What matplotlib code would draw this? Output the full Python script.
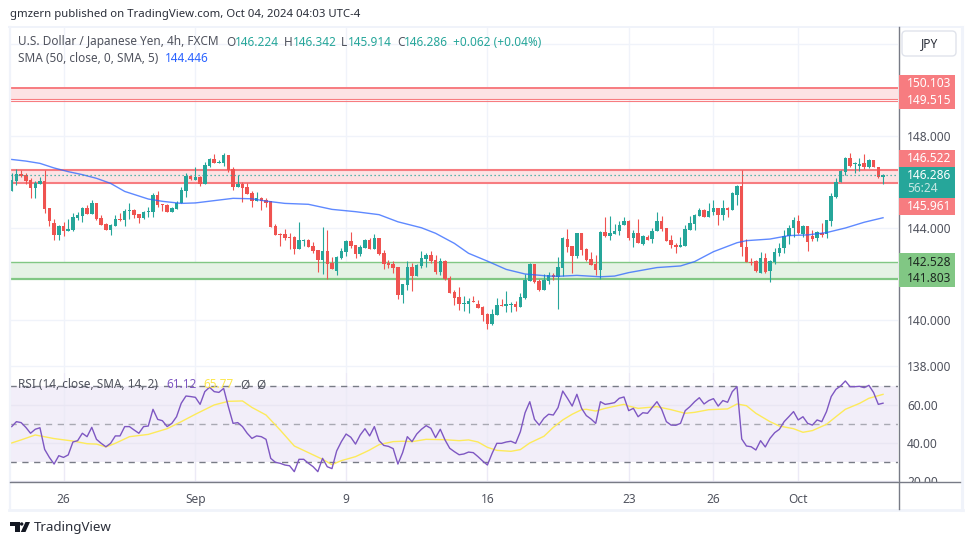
"""USD/JPY 4h TradingView snapshot with SMA, zones and an RSI pane."""
import matplotlib
matplotlib.use("Agg")
import numpy as np
import matplotlib.pyplot as plt
from matplotlib.patches import Rectangle, FancyBboxPatch, Polygon, Circle
from matplotlib.lines import Line2D
from matplotlib.transforms import Affine2D, Bbox

plt.rcParams["font.family"] = ["Noto Sans", "DejaVu Sans"]

opens = [
    145.62,146.06,146.35,146.30,146.09,145.74,145.91,146.03,144.87,144.22,
    143.70,144.09,143.87,143.91,144.43,144.52,144.87,144.61,145.09,144.43,
    144.17,143.91,144.09,144.39,144.35,144.74,144.78,144.61,144.43,144.70,
    144.70,145.43,145.04,145.00,144.70,144.83,145.09,145.61,146.25,146.09,
    146.22,145.91,146.69,147.00,146.83,146.83,147.17,146.56,145.78,145.91,
    145.78,145.52,145.17,145.30,145.22,145.16,144.09,143.74,143.74,143.61,
    143.61,143.09,143.43,143.48,143.22,143.04,142.61,143.00,142.48,142.13,
    142.70,142.96,143.43,143.26,142.87,143.13,143.48,143.09,143.57,142.91,
    142.48,142.43,142.30,141.09,141.52,142.30,141.91,142.35,142.65,142.83,
    142.61,142.09,142.57,141.83,141.22,141.00,140.70,140.70,140.83,140.70,
    140.57,140.26,139.83,140.22,140.65,140.61,140.65,140.70,140.57,140.96,
    141.70,142.43,141.70,141.30,141.70,141.96,141.87,142.26,143.52,143.22,
    142.78,143.78,143.09,142.65,142.43,142.17,143.83,143.65,143.74,143.87,
    144.13,144.30,143.57,143.78,143.32,143.59,143.51,143.87,144.29,143.99,
    143.48,143.26,143.19,143.22,143.91,144.17,144.52,144.78,144.48,144.70,
    144.87,144.57,144.87,144.78,145.43,145.83,143.16,142.52,142.57,142.04,
    142.70,142.13,142.52,142.91,143.12,143.64,143.99,144.30,143.72,144.09,
    143.64,143.55,143.78,143.72,144.30,145.35,146.01,146.45,147.03,146.78,
    146.71,146.83,146.67,146.96,146.67,146.224,
]
highs = [
    146.40,146.55,146.52,146.38,146.16,146.04,146.23,146.52,144.87,144.39,
    144.13,144.27,144.40,144.64,144.71,144.93,145.00,145.22,145.09,144.56,
    144.22,144.17,144.56,144.64,144.83,145.09,144.83,144.61,144.74,144.91,
    145.51,145.61,145.04,145.04,144.91,145.17,145.80,146.40,146.27,146.64,
    146.26,146.85,147.04,147.22,146.96,147.26,147.17,146.65,146.30,146.00,
    145.96,145.61,145.56,145.35,145.30,145.17,144.17,143.78,143.96,143.78,
    143.65,144.26,143.52,143.52,143.39,143.04,144.04,143.91,142.74,142.78,
    143.13,143.48,143.83,143.26,143.26,143.52,143.57,143.74,143.57,143.04,
    142.61,142.57,142.30,141.57,142.57,142.48,142.43,143.00,142.91,143.00,
    142.83,142.70,142.61,141.91,141.30,141.43,141.04,140.96,141.04,140.87,
    140.59,140.30,140.48,140.96,140.91,141.26,140.78,140.83,141.17,142.00,
    142.48,142.43,141.78,142.00,142.09,142.04,142.74,143.61,143.96,143.22,
    143.78,143.78,143.13,142.96,142.83,143.87,144.48,144.52,144.17,144.30,
    144.48,144.35,143.91,144.39,143.70,143.70,143.99,144.70,144.52,143.99,
    143.70,143.33,143.62,144.13,144.52,144.61,144.85,144.83,145.09,145.22,
    144.87,145.22,144.91,145.57,145.87,146.52,143.51,142.68,142.61,142.94,
    142.90,142.61,143.12,143.36,143.91,144.13,144.46,144.57,144.13,144.09,
    143.91,143.87,144.20,144.35,145.51,146.16,146.52,147.07,147.25,146.88,
    147.03,147.22,146.98,146.96,146.67,146.342,
]
lows = [
    145.62,145.87,146.23,145.91,145.29,145.29,145.91,144.67,144.09,143.48,
    143.48,143.65,143.87,143.87,144.35,144.26,144.61,144.61,144.35,144.13,
    143.91,143.70,144.09,144.30,144.09,144.39,144.43,144.22,144.40,144.49,
    144.46,144.91,144.74,144.70,144.70,144.83,145.09,145.35,146.09,146.09,
    145.83,145.91,146.65,146.83,146.83,146.69,146.43,145.65,145.78,145.13,
    145.48,144.91,145.17,144.78,144.91,144.04,143.70,143.22,143.48,143.09,
    142.87,143.09,143.22,143.17,142.91,142.09,142.00,141.78,142.22,141.96,
    142.65,142.78,143.13,142.70,142.78,143.13,143.09,143.09,142.83,142.22,
    142.26,142.04,140.91,140.74,141.30,141.26,141.91,142.26,142.30,142.48,
    142.00,141.96,141.74,141.17,140.65,140.43,140.39,140.30,140.78,140.52,
    139.96,139.61,139.78,140.22,140.61,140.35,140.35,140.39,140.57,140.91,
    141.70,141.61,141.26,141.30,141.57,141.74,140.48,141.91,142.96,142.04,
    142.70,142.83,142.57,142.39,141.96,141.78,143.61,143.48,143.74,143.70,
    144.13,143.48,143.17,143.35,143.26,143.48,143.36,143.87,143.87,143.45,
    143.12,142.91,143.16,143.22,143.91,143.91,144.52,144.48,144.48,144.57,
    144.13,144.35,144.49,144.78,145.00,142.78,142.52,142.39,142.09,142.04,
    142.04,141.67,142.43,142.78,142.91,143.30,143.62,143.74,143.62,143.01,
    143.43,143.43,143.62,143.57,144.10,145.32,146.00,146.30,146.67,146.38,
    146.48,146.55,146.59,146.64,146.19,145.914,
]
closes = [
    146.09,146.35,146.27,146.06,145.74,145.97,146.03,144.83,144.32,143.70,
    144.09,143.87,143.96,144.48,144.56,144.87,144.61,145.09,144.39,144.13,
    143.91,144.13,144.39,144.35,144.74,144.78,144.56,144.43,144.70,144.74,
    145.43,145.00,145.00,144.70,144.87,145.09,145.65,146.26,146.13,146.22,
    145.91,146.74,147.00,146.83,146.87,147.17,146.52,145.78,145.91,145.74,
    145.48,145.17,145.30,145.19,145.09,144.04,143.70,143.70,143.56,143.56,
    143.09,143.48,143.48,143.17,143.00,142.61,143.00,142.43,142.22,142.74,
    143.00,143.43,143.22,142.87,143.17,143.48,143.09,143.57,142.87,142.43,
    142.39,142.26,141.09,141.57,142.30,141.91,142.39,142.70,142.83,142.57,
    142.09,142.57,141.78,141.17,140.96,140.70,140.74,140.83,140.78,140.52,
    140.22,139.83,140.26,140.65,140.61,140.70,140.70,140.57,141.00,141.74,
    142.43,141.65,141.30,141.74,141.96,141.87,142.30,143.57,143.17,142.78,
    143.78,143.04,142.61,142.39,142.17,143.83,143.65,143.78,143.87,144.13,
    144.30,143.57,143.78,143.35,143.64,143.48,143.87,144.29,143.96,143.45,
    143.25,143.19,143.26,143.96,144.22,144.57,144.78,144.48,144.74,144.85,
    144.55,144.87,144.78,145.51,145.83,143.16,142.52,142.48,142.13,142.70,
    142.09,142.57,142.96,143.12,143.65,143.99,144.35,143.78,144.09,143.41,
    143.52,143.83,143.70,144.35,145.39,146.01,146.49,147.03,146.70,146.81,
    146.77,146.67,146.96,146.67,146.23,146.286,
]

sma_idx = [0,3,6,9,12,15,18,21,24,29,32,36,39,43,47,51,54,58,63,68,73,78,82,87,90,94,
           97,101,105,109,114,116,120,125,128,131,137,142,145,149,154,156,161,165,169,
           173,177,181,185]
sma_val = [146.98,146.91,146.81,146.61,146.45,146.32,146.16,145.94,145.59,145.26,145.16,
           145.07,145.09,145.19,145.29,145.27,145.17,145.07,145.03,144.81,144.71,144.58,
           144.27,144.01,143.77,143.33,142.90,142.56,142.20,142.00,141.91,141.90,141.94,
           141.88,141.91,142.06,142.28,142.35,142.54,142.97,143.36,143.45,143.52,143.67,
           143.70,143.80,144.00,144.25,144.446]

rsi_val = [
    48.8,51.4,50.9,48.4,45.3,47.4,48.2,36.8,32.6,29.1,
    33.5,32.6,33.9,40.7,41.4,45.3,43.5,48.4,42.1,40.0,
    38.2,40.0,43.9,43.9,48.8,48.8,47.0,45.3,48.8,49.1,
    57.9,52.6,51.9,48.8,50.5,54.0,61.1,64.9,64.6,64.2,
    60.5,67.2,69.5,67.2,66.8,68.9,59.3,50.5,50.9,48.8,
    45.3,42.6,43.9,43.5,42.1,32.1,30.0,29.5,28.6,28.2,
    25.1,31.6,31.6,29.5,27.7,25.1,32.1,27.7,26.7,36.0,
    40.9,44.9,43.2,39.6,44.4,47.7,43.9,48.8,41.4,38.9,
    38.4,37.2,29.1,35.1,43.5,40.9,44.9,47.4,49.3,47.9,
    43.0,47.4,41.8,37.4,35.6,34.0,34.4,35.4,35.1,33.0,
    30.7,28.6,34.7,40.0,40.0,40.7,41.1,40.0,46.1,56.1,
    61.9,52.6,49.6,53.2,55.3,54.9,58.8,67.5,63.7,59.6,
    65.8,58.4,54.6,52.8,50.5,61.9,60.5,60.9,61.4,63.7,
    64.4,57.2,58.4,54.0,56.1,55.8,58.9,61.9,57.9,51.4,
    49.6,49.5,50.5,57.2,59.3,61.9,64.0,60.7,62.5,63.5,
    59.6,62.5,61.6,67.2,69.8,42.3,38.6,38.2,36.5,41.4,
    38.1,42.6,45.6,47.4,51.4,54.0,56.7,52.3,54.0,50.5,
    49.6,52.3,51.4,56.7,64.6,68.4,70.2,72.8,69.8,69.8,
    70.0,69.3,70.5,66.7,60.5,61.12,
]
rsi_ma_idx = [0,2,5,9,13,16,18,20,22,25,29,33,36,39,43,46,49,51,54,57,60,63,66,68,70,73,
              75,76,78,81,83,85,88,92,95,97,99,101,103,106,108,110,113,115,117,119,121,
              122,124,126,128,130,131,133,137,140,143,145,148,152,154,156,158,161,163,
              166,168,170,173,175,177,180,182,185]
rsi_ma_val = [40.2,41.8,44.4,42.5,41.2,39.8,39.6,38.1,40.0,43.5,44.7,47.7,51.4,55.3,60.2,
              62.1,62.3,58.9,54.9,47.0,38.6,35.1,31.6,28.8,30.9,33.0,35.3,36.5,39.3,40.9,
              41.1,40.9,42.1,41.9,41.4,41.8,40.7,37.9,36.3,35.8,36.7,40.2,43.7,48.4,52.3,
              55.3,57.7,57.9,57.0,58.4,59.5,60.5,59.6,58.4,59.3,57.7,55.8,56.3,57.7,58.1,
              60.7,59.8,55.8,51.4,49.1,47.7,45.8,46.7,50.0,54.0,57.9,61.0,63.7,65.77]

tick_idx = [11, 39, 71, 101, 131, 149, 167]
tick_labels = ["26", "Sep", "9", "16", "23", "26", "Oct"]
price_grid = [138, 140, 142, 144, 146, 148, 150, 152]
price_labels = ["138.000", "140.000", "", "144.000", "", "148.000", "", ""]
rsi_grid = [20, 40, 60]
rsi_labels = ["20.00", "40.00", "60.00"]

zone_upper = [150.103, 149.60, 149.515]
zone_mid = [146.522, 145.961]
zone_low = [142.528, 141.803]
last_price = 146.286

TEAL = "#26a69a"
RED = "#ef5350"
ZONE_RED = "#f77c80"
ZONE_GREEN = "#81c784"
FRAME = "#f0f3fa"
AXIS = "#787b86"
TXT = "#50535e"

W, H = 970, 545
fig = plt.figure(figsize=(W / 100, H / 100), dpi=100, facecolor="white")
px = Affine2D().scale(1, -1).translate(0, H)   # pixel coords, y down


def pane(top, bottom, ylim):
    ax = fig.add_axes([10 / W, 1 - bottom / H, 888 / W, (bottom - top) / H])
    ax.set_xlim(-0.36, 188.18)
    ax.set_ylim(*ylim)
    for s in ax.spines.values():
        s.set_visible(False)
    ax.set_xticks(tick_idx)
    ax.grid(True, color=FRAME, lw=1.0)
    ax.set_axisbelow(True)
    ax.yaxis.tick_right()
    ax.tick_params(length=0, labelcolor=TXT, labelsize=8.6, pad=6.5)
    return ax


# --- price pane
ax = pane(27, 373, (137.696, 152.739))
ax.set_yticks(price_grid, price_labels)
ax.set_xticklabels([])

o, h, l, c = map(np.array, (opens, highs, lows, closes))
x = np.arange(len(o))
col = np.where(c >= o, TEAL, RED)

ax.axhspan(zone_upper[1], zone_upper[0], color="#fde3e4", lw=0, zorder=1)
ax.axhspan(zone_mid[1], zone_mid[0], color="#fde3e4", lw=0, zorder=1)
ax.axhspan(zone_low[1], zone_low[0], color="#e5f2e5", lw=0, zorder=1)
ax.axhline(zone_upper[0], color=ZONE_RED, lw=1.4, zorder=1.5)
ax.axhline(zone_upper[1], color=ZONE_RED, lw=0.8, zorder=1.5)
ax.axhline(zone_upper[2], color=ZONE_RED, lw=0.8, zorder=1.5)
for p in zone_mid:
    ax.axhline(p, color=ZONE_RED, lw=1.5, zorder=1.5)
ax.axhline(zone_low[0], color=ZONE_GREEN, lw=1.0, zorder=1.5)
ax.axhline(zone_low[1], color=ZONE_GREEN, lw=1.6, zorder=1.5)

ax.vlines(x, l, h, colors=col, lw=0.8, zorder=2)
ax.bar(x, np.maximum(np.abs(c - o), 0.03), bottom=np.minimum(o, c), width=0.74, color=col, lw=0, zorder=2.1)
ax.plot(sma_idx, sma_val, color="#2962ff", lw=1.0, alpha=0.75, zorder=3)
ax.axhline(last_price, color=TEAL, lw=0.9, ls=(0, (1, 2.2)), zorder=3)

# --- rsi pane
ax2 = pane(373, 482.3, (19.5, 77.0))
ax2.set_yticks(rsi_grid, rsi_labels)
ax2.set_xticklabels(tick_labels)
ax2.tick_params(axis="x", pad=8, labelsize=8.6)
for lab in ax2.get_yticklabels():
    lab.set_clip_on(True)
    lab.set_clip_box(Bbox([[898, H - 482], [965, H]]))

ax2.axhspan(30, 70, color="#f2eef9", lw=0, zorder=0.5)
ax2.grid(True, color="#e9e6f3", lw=1.0, axis="y")
ax2.grid(True, color="#eceaf6", lw=1.0, axis="x")
ax2.axhline(70, color=AXIS, lw=1, ls=(0, (4.5, 4)), zorder=1.5)
ax2.axhline(50, color="#a9a9b3", lw=1, ls=(0, (4.5, 4)), zorder=1.5)
ax2.axhline(30, color=AXIS, lw=1, ls=(0, (4.5, 4)), zorder=1.5)
ax2.plot(np.arange(len(rsi_val)), rsi_val, color="#7e57c2", lw=1.0, zorder=3)
ax2.plot(rsi_ma_idx, rsi_ma_val, color="#fdea5a", lw=1.0, zorder=2.5)

# --- frame and axis lines
for xs, ys, c_, lw in [
    ([9.5, 9.5], [27, 510], FRAME, 1.6),
    ([962, 962], [27, 510], FRAME, 2.2),
    ([9, 963], [26.8, 26.8], FRAME, 1.4),
    ([9, 963], [510, 510], FRAME, 2.0),
    ([898.5, 898.5], [27, 509], AXIS, 1.0),
    ([10, 960], [482.3, 482.3], AXIS, 1.0),
]:
    fig.add_artist(Line2D(xs, ys, color=c_, lw=lw, transform=px))

# --- price scale labels
def label_box(y0, y1, color):
    fig.add_artist(Rectangle((899, y0), 56, y1 - y0, color=color, lw=0, transform=px, zorder=4))


def scale_text(y, s, color="white", **kw):
    fig.text(907, y, s, color=color, fontsize=8.6, va="center", ha="left", transform=px, zorder=5, **kw)


label_box(75, 109, ZONE_RED)
label_box(150, 166.7, ZONE_RED)
label_box(166.7, 197.7, TEAL)
label_box(198, 215, ZONE_RED)
label_box(253, 287, ZONE_GREEN)
scale_text(83.3, "150.103", fontweight="bold")
scale_text(100.3, "149.515", fontweight="bold")
scale_text(158, "146.522", fontweight="bold")
scale_text(175.7, "146.286", fontweight="bold")
scale_text(189, "56:24", color="#c4e7e3", fontweight="bold")
scale_text(206.5, "145.961", fontweight="bold")
scale_text(262, "142.528", color="#1e2a22")
scale_text(278.5, "141.803", color="#1e2a22")

fig.add_artist(FancyBboxPatch((904, 33), 50, 21, boxstyle="round,pad=2,rounding_size=4", fc="white",
                              ec="#e0e3eb", lw=1, transform=px))
fig.text(929, 44, "JPY", color="#2a2e39", fontsize=8.6, ha="center", va="center", transform=px)

# --- header and legends
def put(x_, y_, s, color=TXT, size=8.5):
    fig.text(x_, y_, s, color=color, fontsize=size, va="center", ha="left", transform=px, zorder=6)


put(10, 14.5, "gmzern published on TradingView.com, Oct 04, 2024 04:03 UTC-4", "#2a2e39", size=8.2)
put(18, 42, "U.S. Dollar / Japanese Yen, 4h, FXCM")
for lx, letter, vx, val in [(226, "O", 234.5, "146.224"), (284, "H", 293, "146.342"),
                            (341, "L", 348, "145.914"), (397, "C", 404, "146.286")]:
    put(lx, 42, letter)
    put(vx, 42, val, TEAL)
put(453, 42, "+0.062 (+0.04%)", TEAL)
put(18, 59, "SMA (50, close, 0, SMA, 5)")
put(165, 59, "144.446", "#2962ff")
put(18, 385, "RSI (14, close, SMA, 14, 2)")
put(166, 385, "61.12", "#7e57c2")
put(203, 385, "65.77", "#fde74c")
put(240, 385, "Ø")
put(256, 385, "Ø")

# --- footer logo
fig.add_artist(Polygon([(10, 522), (19.5, 522), (19.5, 532), (14.5, 532), (14.5, 525.5), (10, 525.5)],
                       color="#131722", lw=0, transform=px))
fig.add_artist(Circle((21.7, 524), 1.7, color="#131722", lw=0, transform=px))
fig.add_artist(Polygon([(25.5, 522), (30, 522), (25.5, 532), (20.8, 532)], color="#131722", lw=0, transform=px))
put(34, 527, "TradingView", "#2a2e39", size=9.6)

fig.savefig("out.png", dpi=100)
